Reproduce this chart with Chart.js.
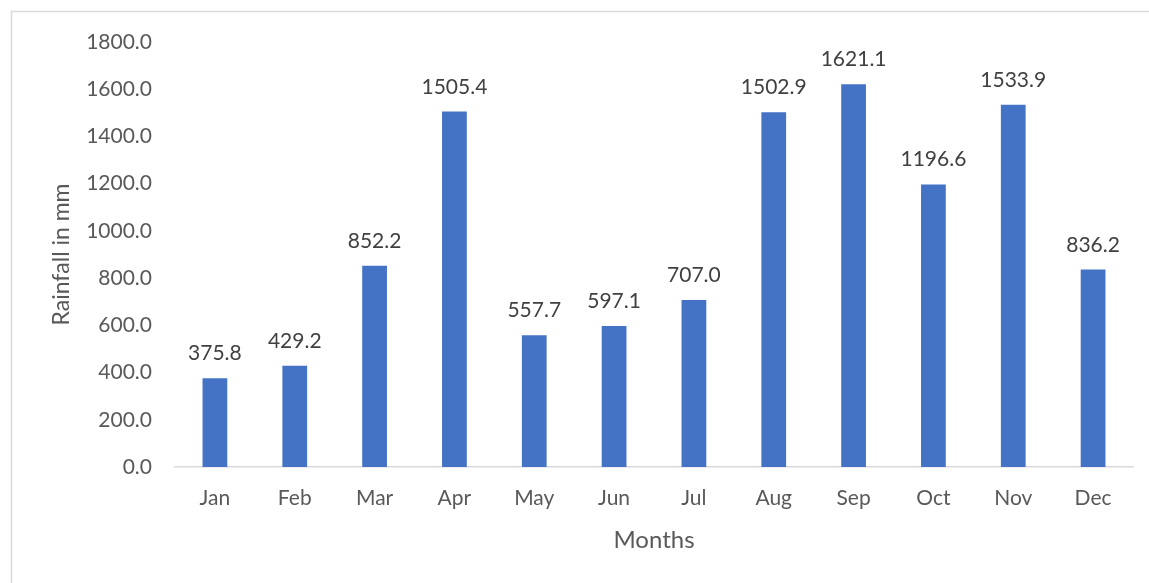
<!DOCTYPE html>
<html>
<head>
<meta charset="utf-8">
<script src="https://cdn.jsdelivr.net/npm/chart.js@4.4.1/dist/chart.umd.min.js"></script>
<style>
  html, body { margin: 0; padding: 0; background: #fff; }
  #wrap { position: relative; width: 1149px; height: 583px; }
</style>
</head>
<body>
<div id="wrap"><canvas id="rainChart"></canvas></div>
<script>
const months = ['Jan', 'Feb', 'Mar', 'Apr', 'May', 'Jun', 'Jul', 'Aug', 'Sep', 'Oct', 'Nov', 'Dec'];
const rainfall = [375.8, 429.2, 852.2, 1505.4, 557.7, 597.1, 707.0, 1502.9, 1621.1, 1196.6, 1533.9, 836.2];
const yTicks = [0, 200, 400, 600, 800, 1000, 1200, 1400, 1600, 1800];

const FONT = 'Lato, "Open Sans", sans-serif';

// frame, axis titles and value labels
const extras = {
    id: 'extras',
    beforeDraw(chart) {
        const c = chart.ctx;
        c.save();
        c.strokeStyle = '#d9d9d9';
        c.lineWidth = 1.5;
        c.beginPath();
        c.moveTo(11.5, chart.height + 5);
        c.lineTo(11.5, 11.5);
        c.lineTo(chart.width + 5, 11.5);
        c.stroke();
        c.restore();
    },
    afterDatasetsDraw(chart) {
        const c = chart.ctx;
        const area = chart.chartArea;
        c.save();
        c.fillStyle = '#404040';
        c.font = '21px ' + FONT;
        c.textAlign = 'center';
        c.textBaseline = 'alphabetic';
        chart.getDatasetMeta(0).data.forEach((bar, i) => {
            c.fillText(rainfall[i].toFixed(1), bar.x, bar.y - 18);
        });

        c.fillStyle = '#595959';
        c.textBaseline = 'middle';
        c.font = '24px ' + FONT;
        c.fillText('Months', (area.left + area.right) / 2, 540);

        c.font = '23px ' + FONT;
        c.translate(62, (area.top + area.bottom) / 2);
        c.rotate(-Math.PI / 2);
        c.fillText('Rainfall in mm', 0, 0);
        c.restore();
    }
};

new Chart(document.getElementById('rainChart'), {
    type: 'bar',
    data: {
        labels: months,
        datasets: [{
            data: rainfall,
            backgroundColor: '#4472C4',
            barPercentage: 0.62,
            categoryPercentage: 0.5
        }]
    },
    plugins: [extras],
    options: {
        responsive: true,
        maintainAspectRatio: false,
        animation: false,
        layout: { padding: { top: 42, right: 16, left: 0, bottom: 0 } },
        plugins: {
            legend: { display: false },
            tooltip: { enabled: false }
        },
        scales: {
            x: {
                grid: { display: false, drawTicks: false },
                border: { display: true, color: '#d9d9d9', width: 1.5 },
                ticks: { color: '#595959', font: { family: FONT, size: 21 }, padding: 19 },
                afterFit: (s) => { s.height = 116; }
            },
            y: {
                min: 0,
                max: 1800,
                afterBuildTicks: (s) => { s.ticks = yTicks.map(v => ({ value: v })); },
                grid: { display: false, drawTicks: false },
                border: { display: false },
                ticks: {
                    color: '#595959',
                    font: { family: FONT, size: 21 },
                    padding: 23,
                    callback: (v) => Number(v).toFixed(1)
                },
                afterFit: (s) => { s.width = 175; }
            }
        }
    }
});
</script>
</body>
</html>
